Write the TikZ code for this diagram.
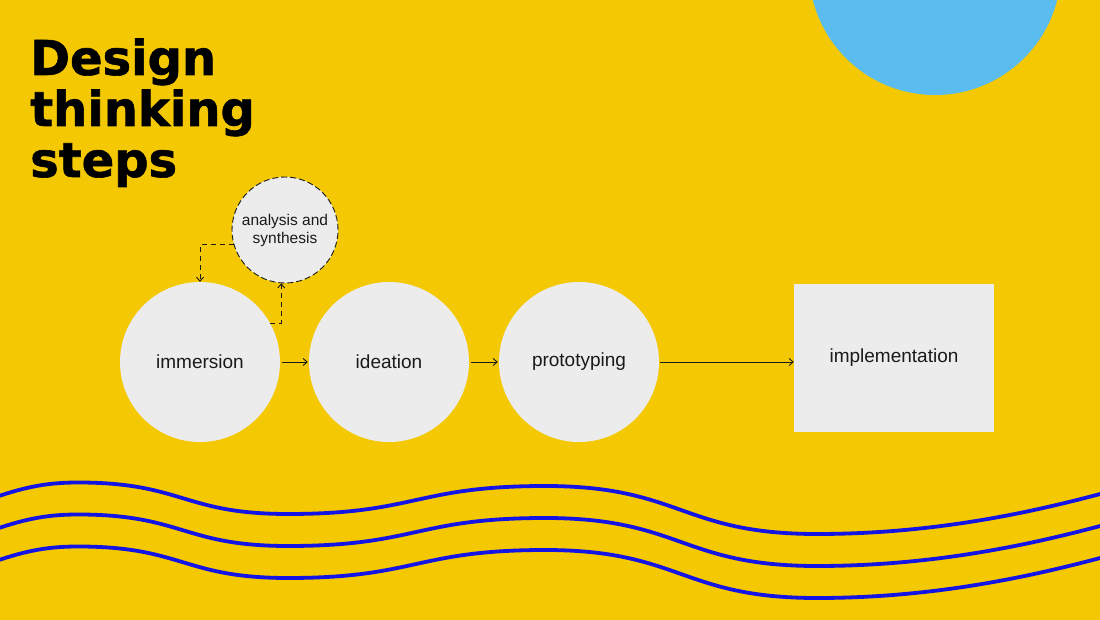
\documentclass[tikz,border=0pt]{standalone}
\usepackage{fontspec}
\setmainfont{Liberation Sans}
\newfontfamily\titlefont[BoldFeatures={FakeBold=1.3}]{DejaVu Sans}
\usetikzlibrary{arrows.meta}
\definecolor{bgyellow}{RGB}{244,200,2}
\definecolor{skyblue}{RGB}{91,188,240}
\definecolor{paper}{RGB}{236,236,236}
\definecolor{waveblue}{RGB}{20,20,228}
\definecolor{ink}{RGB}{26,26,26}
\tikzset{
  stepcirc/.style={circle, fill=paper, minimum size=160pt, inner sep=0pt, text=ink, font=\fontsize{19}{22}\selectfont},
  steprect/.style={rectangle, fill=paper, minimum width=200pt, minimum height=148pt, inner sep=0pt, text=ink, font=\fontsize{19}{22}\selectfont},
  subcirc/.style={circle, fill=paper, draw=ink, line width=0.9pt, dash pattern=on 6pt off 3pt, minimum size=106pt, inner sep=0pt, text=ink, align=center, font=\fontsize{15.5}{18}\selectfont},
  flowarrow/.style={draw=ink, line width=0.9pt, -{Straight Barb[length=4pt,width=7pt]}},
  loopconn/.style={draw=ink, line width=0.9pt, dash pattern=on 5pt off 4pt, -{Straight Barb[length=4pt,width=7pt]}},
  wavestyle/.style={draw=waveblue, line width=3.8pt},
  titleline/.style={anchor=base west, inner sep=0pt, text=black, font=\titlefont\bfseries\fontsize{48}{51}\selectfont}
}
\begin{document}
\begin{tikzpicture}[x=1pt, y=-1pt]
\useasboundingbox (0,0) rectangle (1100,620);
\fill[bgyellow] (0,0) rectangle (1100,620);
\begin{scope}
  \clip (0,0) rectangle (1100,620);
  \fill[skyblue] (935,-31) circle (126);
  \foreach \dy in {0,32,64} {
    \draw[wavestyle] (-4,497+\dy)
      .. controls (28,486+\dy) and (50,482.5+\dy) .. (78,482.5+\dy)
      .. controls (183,482.5+\dy) and (183,514+\dy) .. (288,514+\dy)
      .. controls (416,514+\dy) and (416,486+\dy) .. (545,486+\dy)
      .. controls (681,486+\dy) and (681,534+\dy) .. (817,534+\dy)
      .. controls (940,534+\dy) and (1040,510+\dy) .. (1104,493+\dy);
  }
\end{scope}
\node[titleline] (title1) at (30,75) {Design};
\node[titleline] (title2) at (30,126) {thinking};
\node[titleline] (title3) at (30,177) {steps};
\node[stepcirc] (immersion) at (200,362) {immersion};
\node[stepcirc] (ideation) at (389,362) {ideation};
\node[stepcirc] (prototyping) at (579,362) {prototyping};
\node[steprect] (impl) at (894,358) {implementation};
\node[subcirc] (analysis) at (285,230) {analysis and\\synthesis};
\draw[flowarrow, shorten <=2pt, shorten >=1pt] (immersion.east) -- (ideation.west);
\draw[flowarrow, shorten <=2pt, shorten >=1pt] (ideation.east) -- (prototyping.west);
\draw[flowarrow, shorten <=1pt] (prototyping.east) -- (prototyping.east -| impl.west);
\draw[loopconn] (analysis.196) -| (immersion.north);
\draw[loopconn] (immersion.29) -| (analysis.266);
\end{tikzpicture}
\end{document}
